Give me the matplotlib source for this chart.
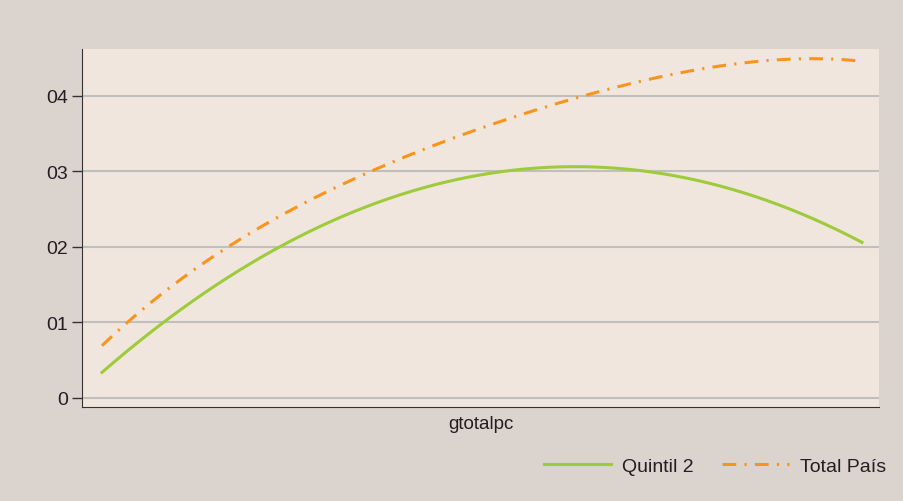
import matplotlib.pyplot as plt
import numpy as np

plt.rcParams['font.family'] = ['Liberation Sans', 'DejaVu Sans']

# data
x = [0, 10, 20, 30, 40, 50, 60, 70, 80, 90, 100]
quintil2 = [0.34, 1.14, 1.81, 2.33, 2.71, 2.96, 3.06, 3.02, 2.84, 2.52, 2.06]
total_pais = [0.69, 1.55, 2.20, 2.76, 3.20, 3.56, 3.91, 4.18, 4.37, 4.48, 4.46]
yticks = [0, 1, 2, 3, 4]
ylabels = ['0', '01', '02', '03', '04']

xs = np.linspace(0, 100, 200)
q_s = np.polyval(np.polyfit(x, quintil2, 2), xs)
t_s = np.polyval(np.polyfit(x, total_pais, 4), xs)

fig = plt.figure(figsize=(9.04, 5.02), dpi=100, facecolor='#dbd3ce')
ax = fig.add_axes([82/904, 1-408/502, (879-82)/904, (408-50)/502])
ax.set_facecolor('#f1e6dd')

ax.plot(xs, q_s, color='#9dcb3b', lw=2.2, label='Quintil 2')
ax.plot(xs, t_s, color='#f7941d', lw=2.2, dashes=(4.5, 2.7, 0.7, 2.7), label='Total País')

ax.set_xlim(-2.63, 102.24)
ax.set_ylim(-0.12, 4.62)
ax.set_yticks(yticks)
ax.set_yticklabels(ylabels, fontsize=14, color='#231f20')
ax.set_xticks([])
ax.yaxis.grid(True, color='#bfbfbf', lw=1.5)
ax.set_axisbelow(True)
ax.tick_params(axis='y', length=7, width=1, color='#333333', pad=3)
for s in ['top', 'right']:
    ax.spines[s].set_visible(False)
for s in ['left', 'bottom']:
    ax.spines[s].set_color('#333333')
ax.set_xlabel('gtotalpc', fontsize=13.5, color='#231f20', labelpad=6)

ax.legend(loc='center', bbox_to_anchor=(715/904, 1-467/502), bbox_transform=fig.transFigure,
          ncol=2, frameon=False, fontsize=14, handlelength=3.45, handletextpad=0.57,
          columnspacing=1.45, labelcolor='#231f20')

plt.savefig('out.png', dpi=100, facecolor=fig.get_facecolor())
